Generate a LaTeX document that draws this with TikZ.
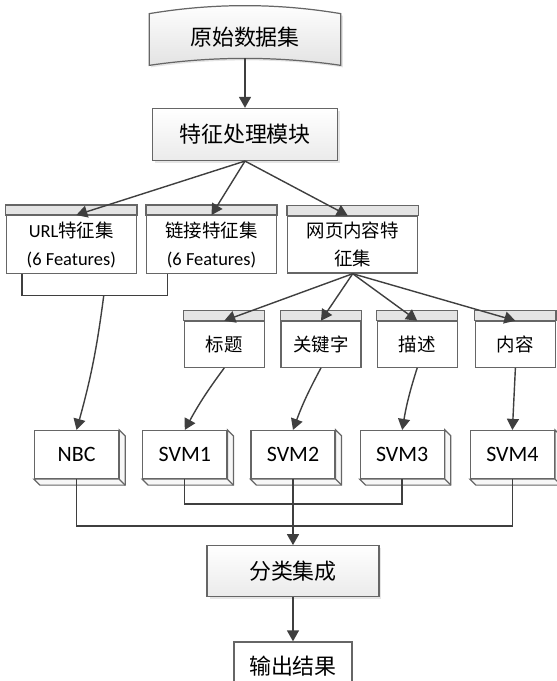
\documentclass[tikz,border=0pt]{standalone}
\usepackage{fontspec}
\setmainfont{Carlito}
\newfontfamily\cjk{Noto Sans CJK SC}
\usepackage{tikz}
\usetikzlibrary{positioning, arrows.meta, calc, backgrounds, shadows}

\definecolor{edgegray}{HTML}{3F3F3F}
\definecolor{framegray}{HTML}{666666}
\definecolor{headgray}{HTML}{E4E4E4}

\begin{document}
\begin{tikzpicture}[
    x=0.02cm, y=-0.02cm,
    frame/.style={draw=framegray, line width=0.7pt},
    procbox/.style={frame, rectangle, top color=white, bottom color=gray!16, minimum width=3.7cm, minimum height=1.04cm, font=\fontsize{12.5}{15}\selectfont\cjk, drop shadow={shadow xshift=0.05cm, shadow yshift=-0.05cm, fill=gray!40}},
    outbox/.style={frame, rectangle, fill=white, minimum width=2.36cm, minimum height=0.96cm, font=\fontsize{12.5}{15}\selectfont\cjk},
    tape/.style={rectangle, inner sep=0pt, minimum width=3.82cm, minimum height=1cm, font=\fontsize{12.5}{15}\selectfont\cjk},
    featset/.style={frame, rectangle, fill=white, minimum width=2.6cm, minimum height=1.06cm, align=center, font=\fontsize{10.5}{16}\selectfont},
    subset/.style={frame, rectangle, fill=white, minimum width=1.6cm, minimum height=0.92cm, font=\fontsize{10.5}{13}\selectfont\cjk},
    model/.style={frame, rectangle, fill=white, minimum width=1.68cm, minimum height=0.96cm, font=\fontsize{12.5}{15}\selectfont},
    edge/.style={draw=edgegray, line width=0.8pt},
    flow/.style={edge, -{Triangle[length=2.2mm, width=2.4mm]}}
]
\useasboundingbox (0,0) rectangle (557,681);

% Knoten
\node[tape] (raw) at (245,37) {原始数据集};
\node[procbox, below=0.91cm of raw] (proc) {特征处理模块};
\node[featset, below=1.08cm of proc, xshift=-0.67cm] (link) {{\cjk 链接特征集}\\(6 Features)};
\node[featset, left=0.18cm of link] (url) {URL{\cjk 特征集}\\(6 Features)};
\node[featset, right=0.2cm of link, font=\fontsize{10.5}{16}\selectfont\cjk] (web) {网页内容特\\征集};
\node[subset, below=0.94cm of web, xshift=1.29cm] (desc) {描述};
\node[subset, left=0.3cm of desc] (keyword) {关键字};
\node[subset, left=0.31cm of keyword] (title) {标题};
\node[subset, right=0.34cm of desc] (content) {内容};
\node[model, below=1.24cm of keyword, xshift=-0.56cm] (svm2) {SVM2};
\node[model, left=0.46cm of svm2] (svm1) {SVM1};
\node[model, left=0.46cm of svm1] (nbc) {NBC};
\node[model, right=0.48cm of svm2] (svm3) {SVM3};
\node[model, right=0.5cm of svm3] (svm4) {SVM4};
\node[procbox, below=1.32cm of svm2, minimum width=3.44cm, minimum height=1.02cm] (merge) {分类集成};
\node[outbox, below=0.88cm of merge] (out) {输出结果};

\begin{scope}[on background layer]
\draw[frame, top color=white, bottom color=gray!22, drop shadow={shadow xshift=0.04cm, shadow yshift=-0.04cm, fill=gray!40}]
  ($(raw.north west)+(0,2)$) .. controls ($(raw.north west)+(64,-8.7)$) and ($(raw.north east)+(-64,-8.7)$) .. ($(raw.north east)+(0,2)$)
  -- ($(raw.south east)+(0,3)$)
  .. controls ($(raw.south east)+(-64,-6.3)$) and ($(raw.south west)+(64,-6.3)$) .. ($(raw.south west)+(0,3)$)
  -- cycle;
\end{scope}

\foreach \n in {url, link, web, title, keyword, desc, content}
  \draw[frame, fill=headgray] (\n.north west) rectangle ([yshift=0.2cm]\n.north east);

\foreach \n in {nbc, svm1, svm2, svm3, svm4} {
  \draw[frame, fill=gray!6] (\n.north east) -- ++(6,6) -- ($(\n.south east)+(6,6)$) -- ($(\n.south west)+(6,6)$) -- (\n.south west) -- (\n.south east) -- cycle;
  \draw[frame] (\n.south east) -- ++(6,6);
}

% Kanten
\draw[flow] ([yshift=0.08cm]raw.south) -- (proc.north);
\draw[flow] (proc.south) -- ([xshift=0.1cm]url.north);
\draw[flow] (proc.south) -- (link.north);
\draw[flow] (proc.south) -- ([xshift=-0.1cm]web.north);
\draw[edge] ([xshift=0.33cm]url.south west) |- ([xshift=0.43cm, yshift=-0.42cm]link.south west) -- ([xshift=0.43cm]link.south west);
\coordinate (featjoin) at ([xshift=0.65cm, yshift=-0.42cm]url.south);
\draw[flow] (featjoin) to[bend left=4] (nbc.north);
\foreach \n in {title, keyword, desc, content}
  \draw[flow] (web.south) -- (\n.north);
\draw[flow] (title.south) to[bend right=4] (svm1.north);
\draw[flow] (keyword.south) to[bend right=4] (svm2.north);
\draw[flow] (desc.south) to[bend right=4] (svm3.north);
\draw[flow] (content.south) -- (svm4.north);
\draw[edge] (svm1.south) -- ++(0,25) -| (svm3.south);
\draw[edge] (nbc.south) -- ++(0,47) -| (svm4.south);
\draw[flow] (svm2.south) -- (merge.north);
\draw[flow] (merge.south) -- (out.north);

\end{tikzpicture}
\end{document}
